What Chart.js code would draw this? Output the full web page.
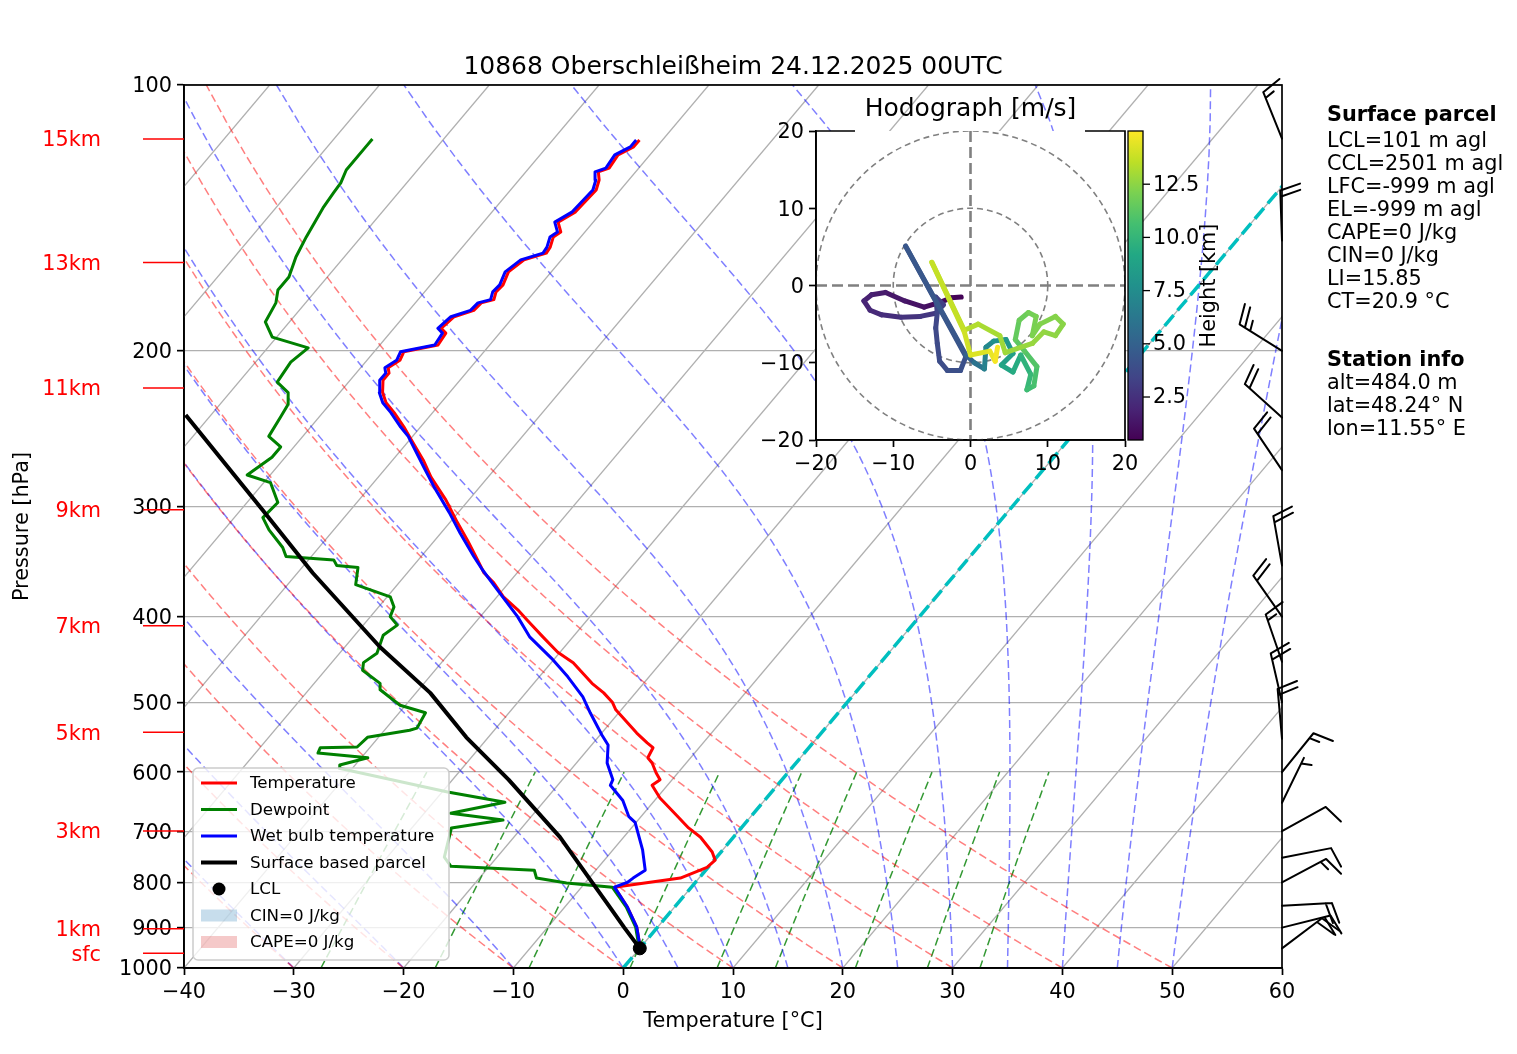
<!DOCTYPE html>
<html lang="de">
<head>
<meta charset="UTF-8">
<title>10868 Oberschleißheim 24.12.2025 00UTC</title>
<script src="https://cdn.jsdelivr.net/npm/chart.js@4"></script>
<style>
  body { margin: 0; background: #fff; }
  #wrap { position: relative; width: 1517px; height: 1054px; }
  #skew { position: absolute; left: 0; top: 0; }
  #hodo { position: absolute; left: 760px; top: 90px; }
</style>
</head>
<body>
<div id="wrap">
  <canvas id="skew" width="1517" height="1054"></canvas>
  <canvas id="hodo" width="480" height="390"></canvas>
</div>
<script>
// ---- sounding (hPa / degC) ----
const tempP = [962, 930, 899, 853, 810, 791, 769, 755, 739, 711, 694, 668, 642, 621, 612, 601, 586, 578, 563, 556, 542,
  510, 500, 488, 476, 451, 439, 422, 404, 393, 380, 366, 357, 345, 328, 313, 295, 278, 266, 252, 244, 235, 229, 223,
  216, 212, 209, 205, 200.5, 197, 191, 188.6, 183, 180, 176.5, 175, 171.5, 168.4, 162.8, 157.8, 155, 152.6, 148.6,
  146.7, 143, 139.2, 131.5, 128.1, 125.4, 124.2, 120, 117.5, 115.4];
const tempT = [0.5, -0.7, -1.9, -4.3, -7.0, -1.7, -0.1, 0.1, -0.8, -3.0, -4.8, -7.2, -9.7, -11.4, -11.1, -12.0, -13.1, -13.9, -14.2, -15.1, -16.8,
  -20.5, -21.4, -22.9, -24.7, -28.0, -30.2, -32.7, -35.4, -37.1, -39.4, -41.4, -43.0, -44.6, -47.0, -49.3, -52.1, -55.2, -57.2, -59.9, -61.5, -63.5, -65.0, -66.1,
  -67.0, -67.0, -67.5, -67.0, -67.3, -64.7, -64.9, -65.7, -65.4, -64.1, -64.0, -63.1, -63.5, -63.4, -63.9, -63.4, -61.9, -62.0, -62.5,
  -62.2, -63.2, -62.4, -62.2, -62.7, -63.4, -62.7, -62.9, -62.1, -62.1];

const dewP = [962, 930, 899, 853, 810, 801, 791, 775, 767, 749, 694, 680, 668, 649, 632, 594, 589, 578, 571, 563, 562,
  548, 538, 535, 514, 504, 484, 476, 460, 451, 440, 420, 409, 400, 390, 380, 368, 352, 350, 345, 342, 334, 319, 309,
  297, 282, 276.5, 264, 257, 250, 238, 230, 223, 217, 206, 198.5, 193, 185.5, 176.5, 170.7, 165, 156.6, 148.6, 137.8,
  132.5, 129.1, 124.8, 117.5, 115.1];
const dewT = [0.3, -0.8, -2.0, -4.4, -7.2, -11.7, -14.8, -15.6, -23.5, -24.8, -26.4, -22.3, -27.6, -23.5, -29.5, -41.2, -41.4, -39.4, -44.3, -44.5, -41.2,
  -41.0, -37.7, -37.2, -37.6, -40.5, -43.5, -44.0, -46.6, -47.1, -46.6, -47.4, -46.9, -48.2, -48.6, -49.7, -53.8, -54.9, -57.0, -57.7, -62.3, -63.3, -65.9, -67.4,
  -67.2, -69.4, -72.1, -71.2, -71.2, -73.1, -73.5, -73.8, -74.7, -76.5, -76.8, -76.3, -80.4, -82.2, -82.7, -83.5, -83.5, -84.4, -85.0, -85.7,
  -85.9, -86.0, -86.5, -86.5, -86.5];

const wetP = [962, 930, 899, 853, 810, 800, 791, 775, 735, 684, 674, 646, 621, 612, 586, 559, 545, 514, 493, 468, 446,
  422, 400, 373, 354, 342, 322, 305, 285, 271, 250, 244, 235, 229, 223, 216, 212, 209, 205, 200.5, 197, 191, 188.6,
  183, 180, 176.5, 175, 171.5, 168.4, 162.8, 157.8, 155, 152.6, 148.6, 146.7, 143, 139.2, 131.5, 128.1, 125.4, 124.2,
  120, 117.5, 115.4];
const wetT = [0.5, -0.7, -1.9, -4.3, -7.0, -6.2, -6.0, -5.5, -7.3, -10.1, -11.1, -12.9, -15.2, -15.4, -17.2, -18.5, -19.8, -22.6, -24.5, -27.4, -30.3,
  -33.9, -36.6, -40.5, -43.4, -45.2, -48.2, -50.8, -54.2, -56.6, -60.4, -61.8, -63.8, -65.3, -66.4, -67.3, -67.3, -67.8, -67.3, -67.6, -65.0, -65.2, -66.0,
  -65.7, -64.4, -64.3, -63.4, -63.8, -63.7, -64.2, -63.7, -62.2, -62.3, -62.8, -62.5, -63.5, -62.7, -62.5, -63.0, -63.7, -63.0,
  -63.2, -62.4, -62.4];

const parcelP = [962, 950, 900, 850, 800, 711, 612, 548, 488, 433, 357, 303, 236.5];
const parcelT = [0.5, 0.0, -3.0, -6.1, -9.4, -15.8, -24.9, -32.0, -38.7, -46.8, -58.6, -68.0, -82.3];
const lclP = 950, lclT = 0.0;

// ---- axes ----
const pressureTicks = [100, 200, 300, 400, 500, 600, 700, 800, 900, 1000];
const kmP = [115.1, 158.9, 220.4, 302.8, 409.6, 540.7, 699.6, 903, 962];
const kmLabels = ['15km', '13km', '11km', '9km', '7km', '5km', '3km', '1km', 'sfc'];

// ---- wind barbs (direction from, speed) ----
const barbP = [950, 900, 850, 800, 750, 700, 650, 600, 550, 500, 450, 400, 350, 273, 238, 200, 150, 115];
const barbDir = [53, 76, 87, 62, 79, 61, 26, 39, 355, 347, 341, 325, 350, 326, 312, 302, 358, 338];
const barbSpd = [20, 20, 20, 15, 10, 10, 5, 15, 20, 20, 15, 20, 20, 20, 20, 25, 20, 15];

// ---- hodograph (height km, u, v m/s) ----
const hodoH = [0.5, 0.7, 0.9, 1.1, 1.3, 1.5, 1.7, 1.9, 2.1, 2.3, 2.5, 2.7, 2.9, 3.1, 3.3, 3.5, 3.6, 3.7, 3.8, 3.9, 4.0, 4.1, 4.3, 4.5,
  5.5, 6.5, 7.0, 7.5, 8.0, 8.5, 8.8, 9.2, 9.6, 10.0, 10.3, 10.6, 10.9, 11.2, 11.4, 11.6, 11.8, 12.0, 12.1, 12.2, 12.3, 12.4,
  12.5, 12.6, 12.7, 12.8, 13.0, 13.2, 13.4, 13.6, 13.8, 14.1, 14.4, 14.7, 15.0];
const hodoU = [-1.2, -2.5, -4.0, -6.0, -8.5, -11.0, -12.8, -13.8, -13.0, -11.5, -9.0, -6.5, -4.5, -3.5, -4.5, -4.3, -4.5, -4.3, -4.0, -3.0, -1.3, -0.6, -8.4, -0.6,
  0.5, 1.8, 2.0, 3.0, 4.6, 5.5, 4.0, 5.5, 6.5, 7.8, 7.3, 8.2, 8.6, 7.0, 5.8, 6.3, 7.5, 8.5, 8.0, 9.0, 11.0, 12.0,
  11.0, 9.5, 8.0, 4.5, 3.8, 1.0, -0.8, -5.0, -0.8, 0.0, 2.5, 3.2, 3.5];
const hodoV = [-1.5, -1.6, -2.2, -2.8, -2.0, -0.9, -1.2, -2.0, -3.2, -3.8, -4.1, -4.0, -3.6, -2.5, -1.5, -3.5, -5.5, -7.5, -9.8, -11.0, -11.0, -9.2, 5.1, -9.0,
  -10.0, -10.8, -8.0, -7.2, -7.0, -8.8, -10.3, -11.2, -9.0, -11.5, -13.5, -13.0, -10.5, -8.5, -7.0, -4.5, -3.5, -4.0, -6.5, -5.0, -4.0, -5.0,
  -6.5, -6.0, -7.5, -8.7, -6.5, -5.0, -5.8, 3.0, -6.0, -9.0, -8.5, -9.8, -8.0];
const hodoRings = [10, 20];
const cbarRange = [0.48, 15.0];
const cbarTicks = [2.5, 5.0, 7.5, 10.0, 12.5];

// ---- background lines (start values; curves follow from thermodynamics) ----
const isoT = [-130, -120, -110, -100, -90, -80, -70, -60, -50, -40, -30, -20, -10, 0, 10, 20, 30, 40, 50];
const dryT0 = [-40, -30, -20, -10, 0, 10, 20, 30, 40, 50];
const moistT0 = [-40, -30, -20, -10, 0, 5, 10, 15, 20, 25, 30, 35, 40, 45, 50];
const mixW = [0.4, 1, 2, 4, 7, 10, 16, 24, 32]; // g/kg

// ---- texts ----
const titleText = '10868 Oberschleißheim 24.12.2025 00UTC';
const legendLabels = ['Temperature', 'Dewpoint', 'Wet bulb temperature', 'Surface based parcel', 'LCL', 'CIN=0 J/kg', 'CAPE=0 J/kg'];
const infoParcel = ['LCL=101 m agl', 'CCL=2501 m agl', 'LFC=-999 m agl', 'EL=-999 m agl', 'CAPE=0 J/kg', 'CIN=0 J/kg', 'LI=15.85', 'CT=20.9 °C'];
const infoStation = ['alt=484.0 m', 'lat=48.24° N', 'lon=11.55° E'];

const FONT = '"DejaVu Sans", sans-serif';
Chart.defaults.font.family = FONT;
Chart.defaults.color = '#000';

// skew: degC shift per decade of pressure
const SKEW = 67.8;
const sx = (t, p) => t + SKEW * Math.log10(1000 / p);
const pts = (P, T) => P.map((p, i) => ({ x: sx(T[i], p), y: p }));
const minus = v => (v < 0 ? '\u2212' + Math.abs(v) : String(v));

function dryLine(t0) {
  const out = [];
  for (let p = 1000; p >= 100; p -= 10) {
    const t = (t0 + 273.15) * Math.pow(p / 1000, 0.2857) - 273.15;
    out.push({ x: sx(t, p), y: p });
  }
  return out;
}

function moistRate(p, tk) {
  const Rd = 287.04749, Cp = 1004.6662, Lv = 2.50084e6, eps = 0.6219569;
  const es = 6.112 * Math.exp(17.67 * (tk - 273.15) / (tk - 29.65));
  const rs = eps * es / (p - es);
  return (Rd * tk + Lv * rs) / (Cp + Lv * Lv * rs * eps / (Rd * tk * tk)) / p;
}

function moistLine(t0) {
  let tk = t0 + 273.15;
  const out = [{ x: sx(t0, 1000), y: 1000 }];
  const h = -10;
  for (let p = 1000; p > 100; p += h) {
    const k1 = moistRate(p, tk);
    const k2 = moistRate(p + h / 2, tk + h / 2 * k1);
    const k3 = moistRate(p + h / 2, tk + h / 2 * k2);
    const k4 = moistRate(p + h, tk + h * k3);
    tk += h / 6 * (k1 + 2 * k2 + 2 * k3 + k4);
    out.push({ x: sx(tk - 273.15, p + h), y: p + h });
  }
  return out;
}

function mixLine(w) {
  const out = [];
  for (let p = 1000; p >= 600; p -= 50) {
    const e = (w / 1000) * p / (0.622 + w / 1000);
    const l = Math.log(e / 6.112);
    const td = 243.5 * l / (17.67 - l);
    out.push({ x: sx(td, p), y: p });
  }
  return out;
}

function line(data, color, width, dash, order) {
  return {
    data, showLine: true, borderColor: color, borderWidth: width, borderDash: dash,
    pointRadius: 0, order, clip: 0, fill: false, borderJoinStyle: 'round'
  };
}

const datasets = [];
isoT.forEach(t => datasets.push(line([{ x: t, y: 1000 }, { x: sx(t, 100), y: 100 }], '#b0b0b0', 1.3, [], 100)));
dryT0.forEach(t => datasets.push(line(dryLine(t), 'rgba(255,0,0,0.5)', 1.5, [8, 4], 90)));
moistT0.forEach(t => datasets.push(line(moistLine(t), 'rgba(0,0,255,0.5)', 1.5, [8, 4], 90)));
mixW.forEach(w => datasets.push(line(mixLine(w), 'rgba(0,128,0,0.8)', 1.5, [8, 4], 90)));
datasets.push(line([{ x: 0, y: 1000 }, { x: sx(0, 100), y: 100 }], '#00bfbf', 3.5, [14, 6], 50));
datasets.push(line(pts(tempP, tempT), '#ff0000', 3, [], 10));
datasets.push(line(pts(dewP, dewT), '#008000', 3, [], 9));
datasets.push(line(pts(wetP, wetT), '#0000ff', 3, [], 8));
datasets.push(line(pts(parcelP, parcelT), '#000000', 4, [], 7));
datasets.push({
  data: [{ x: sx(lclT, lclP), y: lclP }], showLine: false, pointRadius: 6.5,
  pointBackgroundColor: '#000', pointBorderColor: '#000', order: 1, clip: 0
});

function drawLegend(ctx) {
  const x0 = 193, y0 = 768, w = 256, h = 192;
  ctx.save();
  ctx.beginPath();
  ctx.roundRect(x0, y0, w, h, 5);
  ctx.fillStyle = 'rgba(255,255,255,0.8)';
  ctx.fill();
  ctx.strokeStyle = '#cccccc';
  ctx.lineWidth = 1.5;
  ctx.stroke();
  const handles = [
    { kind: 'line', color: '#ff0000', lw: 3 },
    { kind: 'line', color: '#008000', lw: 3 },
    { kind: 'line', color: '#0000ff', lw: 3 },
    { kind: 'line', color: '#000000', lw: 4 },
    { kind: 'dot' },
    { kind: 'patch', color: 'rgba(31,119,180,0.25)' },
    { kind: 'patch', color: 'rgba(214,39,40,0.25)' }
  ];
  ctx.font = '16.7px ' + FONT;
  ctx.textBaseline = 'middle';
  legendLabels.forEach((lab, i) => {
    const y = 783 + i * 26.5;
    const hd = handles[i];
    if (hd.kind === 'line') {
      ctx.strokeStyle = hd.color; ctx.lineWidth = hd.lw;
      ctx.beginPath(); ctx.moveTo(201, y); ctx.lineTo(237, y); ctx.stroke();
    } else if (hd.kind === 'dot') {
      ctx.fillStyle = '#000';
      ctx.beginPath(); ctx.arc(219, y, 6.5, 0, 2 * Math.PI); ctx.fill();
    } else {
      ctx.fillStyle = hd.color;
      ctx.fillRect(201, y - 6, 36, 12);
    }
    ctx.fillStyle = '#000';
    ctx.fillText(lab, 250, y + 1);
  });
  ctx.restore();
}

function drawBarb(ctx, x, y, dir, spd) {
  const L = 50;
  const a = dir * Math.PI / 180;
  const dx = Math.sin(a), dy = -Math.cos(a);
  const px = -dy, py = dx;
  const sp = 0.125 * L, fh = 0.4 * L, fw = 0.25 * L;
  let s = Math.round(spd / 5) * 5;
  const flags = Math.floor(s / 50); s -= flags * 50;
  const full = Math.floor(s / 10); s -= full * 10;
  const half = s >= 5;
  ctx.beginPath();
  ctx.moveTo(x, y);
  ctx.lineTo(x + L * dx, y + L * dy);
  let pos = L;
  for (let i = 0; i < flags; i++) {
    const bx = x + pos * dx, by = y + pos * dy;
    ctx.moveTo(bx, by);
    ctx.lineTo(bx + fh * px - fw / 2 * dx, by + fh * py - fw / 2 * dy);
    ctx.lineTo(bx - fw * dx, by - fw * dy);
    pos -= fw + sp;
  }
  for (let i = 0; i < full; i++) {
    const bx = x + pos * dx, by = y + pos * dy;
    ctx.moveTo(bx, by);
    ctx.lineTo(bx + fh * px + fw / 2 * dx, by + fh * py + fw / 2 * dy);
    pos -= sp;
  }
  if (half) {
    if (full === 0 && flags === 0) pos -= sp;
    const bx = x + pos * dx, by = y + pos * dy;
    ctx.moveTo(bx, by);
    ctx.lineTo(bx + fh / 2 * px + fw / 4 * dx, by + fh / 2 * py + fw / 4 * dy);
  }
  ctx.stroke();
}

const skewDecor = {
  id: 'skewDecor',
  beforeDraw(chart) {
    const ctx = chart.ctx;
    ctx.save();
    ctx.fillStyle = '#fff';
    ctx.fillRect(0, 0, chart.width, chart.height);
    ctx.restore();
  },
  afterDatasetsDraw(chart) {
    drawLegend(chart.ctx);
  },
  afterDraw(chart) {
    const { ctx, chartArea: a } = chart;
    const ys = chart.scales.y;
    ctx.save();
    // frame
    ctx.strokeStyle = '#000';
    ctx.lineWidth = 1.7;
    ctx.strokeRect(a.left, a.top, a.right - a.left, a.bottom - a.top);

    // height markers
    ctx.font = '20.8px ' + FONT;
    ctx.textAlign = 'right';
    ctx.textBaseline = 'middle';
    kmP.forEach((p, i) => {
      const y = ys.getPixelForValue(p);
      ctx.strokeStyle = '#ff0000';
      ctx.lineWidth = 1.5;
      ctx.beginPath(); ctx.moveTo(143, y); ctx.lineTo(a.left, y); ctx.stroke();
      ctx.fillStyle = '#ff0000';
      ctx.fillText(kmLabels[i], 101, y + 2);
    });

    // wind barbs
    ctx.strokeStyle = '#000';
    ctx.lineWidth = 2;
    ctx.lineCap = 'round';
    barbP.forEach((p, i) => drawBarb(ctx, a.right, ys.getPixelForValue(p), barbDir[i], barbSpd[i]));

    // titles
    ctx.fillStyle = '#000';
    ctx.textAlign = 'center';
    ctx.font = '25px ' + FONT;
    ctx.fillText(titleText, (a.left + a.right) / 2, 67);
    ctx.font = '20.8px ' + FONT;
    ctx.fillText('Temperature [°C]', (a.left + a.right) / 2, 1022);
    ctx.save();
    ctx.translate(23, (a.top + a.bottom) / 2);
    ctx.rotate(-Math.PI / 2);
    ctx.fillText('Pressure [hPa]', 0, 0);
    ctx.restore();

    // info text
    ctx.textAlign = 'left';
    ctx.font = 'bold 20.8px ' + FONT;
    ctx.fillText('Surface parcel', 1327, 116);
    ctx.font = '20.8px ' + FONT;
    infoParcel.forEach((t, i) => ctx.fillText(t, 1327, 142 + i * 22.9));
    ctx.font = 'bold 20.8px ' + FONT;
    ctx.fillText('Station info', 1327, 361);
    ctx.font = '20.8px ' + FONT;
    infoStation.forEach((t, i) => ctx.fillText(t, 1327, 384 + i * 22.9));
    ctx.restore();
  }
};

new Chart(document.getElementById('skew'), {
  type: 'scatter',
  data: { datasets },
  options: {
    responsive: false,
    animation: false,
    events: [],
    layout: { padding: { left: 104, top: 85, right: 235, bottom: 0 } },
    plugins: { legend: { display: false }, tooltip: { enabled: false } },
    scales: {
      x: {
        type: 'linear', min: -40, max: 60, position: 'bottom',
        afterFit: s => { s.height = 86; },
        ticks: { stepSize: 10, font: { size: 20.8 }, color: '#000', padding: 5, maxRotation: 0, callback: v => minus(v) },
        grid: { drawOnChartArea: false, tickLength: 7, tickWidth: 1.7, tickColor: '#000' },
        border: { display: true, color: '#000', width: 1.7 }
      },
      y: {
        type: 'logarithmic', reverse: true, min: 100, max: 1000,
        afterFit: s => { s.width = 80; },
        afterBuildTicks: s => { s.ticks = pressureTicks.map(v => ({ value: v })); },
        ticks: { font: { size: 20.8 }, color: '#000', padding: 5, labelOffset: 2, callback: v => String(v) },
        grid: { color: '#b0b0b0', lineWidth: 1.3, tickLength: 7, tickWidth: 1.7, tickColor: '#000' },
        border: { display: true, color: '#000', width: 1.7 }
      }
    }
  },
  plugins: [skewDecor]
});

// ---- hodograph ----
const VIRIDIS = ['#440154', '#482475', '#414487', '#355f8d', '#2a788e', '#21918c', '#22a884', '#44bf70', '#7ad151', '#bddf26', '#fde725'];
function hexRgb(h) { return [1, 3, 5].map(k => parseInt(h.slice(k, k + 2), 16)); }
function viridis(f) {
  f = Math.min(1, Math.max(0, f));
  const i = Math.min(9, Math.floor(f * 10)), t = f * 10 - i;
  const c0 = hexRgb(VIRIDIS[i]), c1 = hexRgb(VIRIDIS[i + 1]);
  return 'rgb(' + c0.map((c, k) => Math.round(c + (c1[k] - c) * t)).join(',') + ')';
}
const hnorm = h => (h - cbarRange[0]) / (cbarRange[1] - cbarRange[0]);

const hodoDecor = {
  id: 'hodoDecor',
  beforeDraw(chart) {
    const { ctx, chartArea: a } = chart;
    ctx.save();
    ctx.fillStyle = '#fff';
    ctx.fillRect(a.left, a.top, a.right - a.left, a.bottom - a.top);
    ctx.restore();
  },
  beforeDatasetsDraw(chart) {
    const { ctx, chartArea: a } = chart;
    const xs = chart.scales.x, ys = chart.scales.y;
    const cx = xs.getPixelForValue(0), cy = ys.getPixelForValue(0);
    ctx.save();
    ctx.beginPath();
    ctx.rect(a.left, a.top, a.right - a.left, a.bottom - a.top);
    ctx.clip();
    ctx.strokeStyle = '#808080';
    ctx.lineWidth = 1.6;
    ctx.setLineDash([6, 4]);
    hodoRings.forEach(r => {
      ctx.beginPath();
      ctx.arc(cx, cy, xs.getPixelForValue(r) - cx, 0, 2 * Math.PI);
      ctx.stroke();
    });
    ctx.lineWidth = 2.6;
    ctx.setLineDash([11, 5]);
    ctx.beginPath();
    ctx.moveTo(a.left, cy); ctx.lineTo(a.right, cy);
    ctx.moveTo(cx, a.top); ctx.lineTo(cx, a.bottom);
    ctx.stroke();
    ctx.restore();
  },
  afterDraw(chart) {
    const { ctx, chartArea: a } = chart;
    ctx.save();
    ctx.strokeStyle = '#000';
    ctx.lineWidth = 1.7;
    // frame; the top edge stays open where the outer ring meets it
    ctx.beginPath();
    ctx.moveTo(a.left + 39, a.top);
    ctx.lineTo(a.left, a.top);
    ctx.lineTo(a.left, a.bottom);
    ctx.lineTo(a.right, a.bottom);
    ctx.lineTo(a.right, a.top);
    ctx.lineTo(a.right - 40, a.top);
    ctx.stroke();
    ctx.fillStyle = '#000';
    ctx.font = '25px ' + FONT;
    ctx.textAlign = 'center';
    ctx.textBaseline = 'middle';
    ctx.fillText('Hodograph [m/s]', (a.left + a.right) / 2, 19);

    // colorbar
    const cx0 = a.right + 3, cw = 15;
    const grad = ctx.createLinearGradient(0, a.bottom, 0, a.top);
    VIRIDIS.forEach((c, i) => grad.addColorStop(i / 10, c));
    ctx.fillStyle = grad;
    ctx.fillRect(cx0, a.top, cw, a.bottom - a.top);
    ctx.lineWidth = 1.3;
    ctx.strokeRect(cx0, a.top, cw, a.bottom - a.top);
    ctx.font = '20.8px ' + FONT;
    ctx.textAlign = 'left';
    ctx.fillStyle = '#000';
    cbarTicks.forEach(h => {
      const y = a.bottom - hnorm(h) * (a.bottom - a.top);
      ctx.beginPath(); ctx.moveTo(cx0 + cw, y); ctx.lineTo(cx0 + cw + 7, y); ctx.stroke();
      ctx.fillText(h.toFixed(1), cx0 + cw + 10, y + 1);
    });
    ctx.translate(450, (a.top + a.bottom) / 2);
    ctx.rotate(-Math.PI / 2);
    ctx.textAlign = 'center';
    ctx.fillText('Height [km]', 0, 0);
    ctx.restore();
  }
};

new Chart(document.getElementById('hodo'), {
  type: 'scatter',
  data: {
    datasets: [{
      data: hodoU.map((u, i) => ({ x: u, y: hodoV[i] })),
      showLine: true, pointRadius: 0, borderWidth: 5,
      borderCapStyle: 'round', borderJoinStyle: 'round', clip: 0,
      borderColor: viridis(0),
      segment: {
        borderColor: c => viridis(hnorm((hodoH[c.p0DataIndex] + hodoH[c.p1DataIndex]) / 2))
      }
    }]
  },
  options: {
    responsive: false,
    animation: false,
    events: [],
    layout: { padding: { left: 0, top: 41, right: 115, bottom: 0 } },
    plugins: { legend: { display: false }, tooltip: { enabled: false } },
    scales: {
      x: {
        type: 'linear', min: -20, max: 20,
        afterFit: s => { s.height = 40; },
        ticks: { stepSize: 10, font: { size: 20.8 }, color: '#000', padding: 5, maxRotation: 0, callback: v => minus(v) },
        grid: { drawOnChartArea: false, tickLength: 7, tickWidth: 1.7, tickColor: '#000' },
        border: { display: true, color: '#000', width: 1.7 }
      },
      y: {
        type: 'linear', min: -20, max: 20,
        afterFit: s => { s.width = 56; },
        ticks: { stepSize: 10, font: { size: 20.8 }, color: '#000', padding: 5, labelOffset: 2, callback: v => minus(v) },
        grid: { drawOnChartArea: false, tickLength: 7, tickWidth: 1.7, tickColor: '#000' },
        border: { display: true, color: '#000', width: 1.7 }
      }
    }
  },
  plugins: [hodoDecor]
});
</script>
</body>
</html>
